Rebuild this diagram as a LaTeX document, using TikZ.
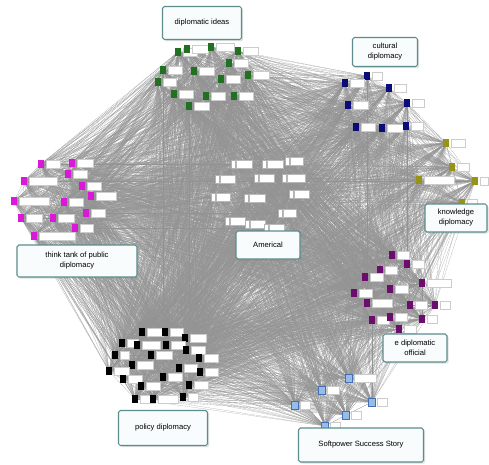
\documentclass[tikz,border=0pt]{standalone}
\usepackage{fontspec}
\setsansfont{Liberation Sans}
\usetikzlibrary{shadows}
\pgfdeclarelayer{background}
\pgfsetlayers{background,main}
\definecolor{ideascol}{RGB}{34,112,34}
\definecolor{cultcol}{RGB}{12,12,120}
\definecolor{knowcol}{RGB}{150,148,24}
\definecolor{tankcol}{RGB}{218,24,218}
\definecolor{officol}{RGB}{108,12,108}
\definecolor{softcol}{RGB}{150,188,232}
\definecolor{softedge}{RGB}{70,110,180}
\definecolor{framecol}{RGB}{92,140,140}
\definecolor{framefill}{RGB}{248,252,252}
\tikzset{
  hub/.style={minimum width=2.0mm, minimum height=2.4mm, inner sep=0pt},
  tag/.style={fill=white, draw=gray!40, line width=0.2pt, minimum height=2.4mm,
    inner sep=0pt, anchor=west, xshift=0.3mm},
  link/.style={draw=gray!85, line width=0.1pt},
  title/.style={draw=framecol, line width=0.9pt, rounded corners=1.5pt, fill=framefill,
    align=center, font=\sffamily\fontsize{6.5}{8.5}\selectfont,
    drop shadow={shadow xshift=0.5mm, shadow yshift=-0.5mm, opacity=0.25}}
}
\begin{document}
\begin{tikzpicture}[x=0.3mm, y=-0.3mm]
  \useasboundingbox (0,0) rectangle (489,465);
  % clusters: square hub plus a small label plate on its right
  \foreach \px/\py/\w [count=\n] in {178/52/14, 187/49/16, 211/47/18, 238/51/15, 229/63/14,
      163/70/14, 194/71/15, 221/79/14, 248/75/16, 158/82/13, 174/94/14, 206/96/14, 234/96/14, 189/106/15}
    {\node[hub, fill=ideascol] (idea\n) at (\px,\py) {};
     \node[tag, minimum width=\w*0.3mm] at (idea\n.east) {};}
  \foreach \px/\py/\w [count=\n] in {367/76/10, 345/83/14, 389/88/12, 407/103/12, 348/105/15,
      356/127/14, 382/128/16, 406/126/12}
    {\node[hub, fill=cultcol] (cult\n) at (\px,\py) {};
     \node[tag, minimum width=\w*0.3mm] at (cult\n.east) {};}
  \foreach \px/\py/\w [count=\n] in {446/143/14, 452/167/12, 419/180/30, 475/181/8, 462/203/10}
    {\node[hub, fill=knowcol] (know\n) at (\px,\py) {};
     \node[tag, minimum width=\w*0.3mm] at (know\n.east) {};}
  \foreach \px/\py/\w [count=\n] in {41/164/14, 72/163/16, 68/174/14, 24/181/28, 82/186/14,
      91/196/20, 14/201/30, 64/202/14, 86/213/14, 21/218/16, 53/218/16, 75/228/13, 34/236/36}
    {\node[hub, fill=tankcol] (tank\n) at (\px,\py) {};
     \node[tag, minimum width=\w*0.3mm] at (tank\n.east) {};}
  \foreach \px/\py/\w [count=\n] in {233/164/16, 264/164/16, 287/161/13, 217/179/15, 256/178/15,
      284/178/18, 213/197/14, 246/198/16, 291/194/15, 280/213/13, 227/221/15, 247/224/15, 266/228/15}
    {\node[hub, minimum width=1.3mm, fill=white, draw=gray!60, line width=0.2pt] (amer\n) at (\px,\py) {};
     \node[tag, draw=gray!55, minimum width=\w*0.3mm] at (amer\n.east) {};}
  \foreach \px/\py/\w [count=\n] in {392/255/12, 407/264/12, 380/270/12, 365/277/13, 422/283/24,
      390/289/13, 354/293/13, 367/303/20, 410/305/12, 435/305/10, 372/320/12, 390/317/12,
      422/319/10, 399/329/12}
    {\node[hub, fill=officol] (offi\n) at (\px,\py) {};
     \node[tag, minimum width=\w*0.3mm] at (offi\n.east) {};}
  \foreach \px/\py/\w [count=\n] in {142/332/16, 165/332/13, 185/338/16, 122/343/11, 137/345/18,
      166/345/14, 186/350/14, 115/355/9, 151/355/16, 199/358/14, 132/365/16, 179/368/13,
      109/371/15, 200/372/13, 163/377/14, 123/379/14, 141/386/14, 189/385/14, 135/399/15,
      153/399/20, 183/397/10}
    {\node[hub, fill=black] (poli\n) at (\px,\py) {};
     \node[tag, minimum width=\w*0.3mm] at (poli\n.east) {};}
  \foreach \px/\py/\w [count=\n] in {349/378/22, 322/390/12, 372/402/10, 295/405/10, 346/415/10, 325/426/10}
    {\node[hub, fill=softcol, draw=softedge, line width=0.3pt] (soft\n) at (\px,\py) {};
     \node[tag, minimum width=\w*0.3mm] at (soft\n.east) {};}
  % every hub linked to every other hub
  \def\allhubs{idea1,idea2,idea3,idea4,idea5,idea6,idea7,idea8,idea9,idea10,idea11,idea12,idea13,idea14,
    cult1,cult2,cult3,cult4,cult5,cult6,cult7,cult8,know1,know2,know3,know4,know5,
    tank1,tank2,tank3,tank4,tank5,tank6,tank7,tank8,tank9,tank10,tank11,tank12,tank13,
    amer1,amer2,amer3,amer4,amer5,amer6,amer7,amer8,amer9,amer10,amer11,amer12,amer13,
    offi1,offi2,offi3,offi4,offi5,offi6,offi7,offi8,offi9,offi10,offi11,offi12,offi13,offi14,
    poli1,poli2,poli3,poli4,poli5,poli6,poli7,poli8,poli9,poli10,poli11,poli12,poli13,poli14,
    poli15,poli16,poli17,poli18,poli19,poli20,poli21,soft1,soft2,soft3,soft4,soft5,soft6}
  \begin{pgfonlayer}{background}
    \foreach \u [count=\i] in \allhubs
      \foreach \v [count=\j] in \allhubs
        {\ifnum\j>\i \draw[link] (\u.center) -- (\v.center); \fi}
  \end{pgfonlayer}
  % cluster titles
  \node[title, minimum width=23.7mm, minimum height=9.9mm] (ideas) at (202,23) {diplomatic ideas};
  \node[title, minimum width=19.5mm, minimum height=8.7mm] (cultural) at (385,52) {cultural\\diplomacy};
  \node[title, minimum width=18.6mm, minimum height=8.4mm] (knowledge) at (456,218) {knowledge\\diplomacy};
  \node[title, minimum width=36mm, minimum height=9.6mm] (thinktank) at (77,261) {think tank of public\\diplomacy};
  \node[title, minimum width=19.2mm, minimum height=8.4mm] (america) at (268,245) {Americal};
  \node[title, minimum width=19.2mm, minimum height=8.4mm] (official) at (415,348) {e diplomatic\\official};
  \node[title, minimum width=26.7mm, minimum height=10.5mm] (policy) at (163,428) {policy diplomacy};
  \node[title, minimum width=37.5mm, minimum height=10.2mm] (softpower) at (361,445) {Softpower Success Story};
\end{tikzpicture}
\end{document}
